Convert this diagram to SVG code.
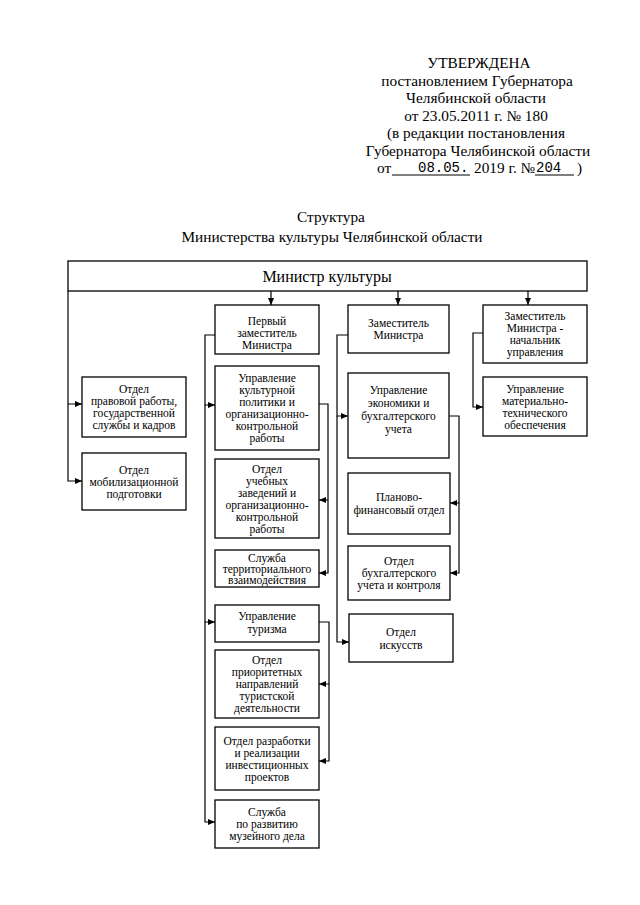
<svg xmlns="http://www.w3.org/2000/svg" width="640" height="905" viewBox="0 0 640 905">
<style>
text{font-family:"Liberation Serif","Times New Roman",serif;fill:#000}
.h{font-size:15.3px;text-anchor:middle}
.hs{font-size:15.3px}
.m{font-family:"Liberation Mono","Courier New",monospace;font-size:14px}
.t{font-size:11.5px;text-anchor:middle}
.b{fill:#fff;stroke:#000;stroke-width:1.3}
.c{fill:none;stroke:#000;stroke-width:1.2}
.u{stroke:#000;stroke-width:1}
</style>
<defs>
<marker id="a" markerUnits="userSpaceOnUse" markerWidth="7" markerHeight="6" refX="7" refY="3" orient="auto">
<path d="M0,0 L7,3 L0,6 z" fill="#000"/>
</marker>
</defs>
<rect width="640" height="905" fill="#fff"/>

<g id="header">
<text class="h" x="479" y="68">УТВЕРЖДЕНА</text>
<text class="h" x="477" y="85.5">постановлением Губернатора</text>
<text class="h" x="476" y="103">Челябинской области</text>
<text class="h" x="476" y="120.5">от 23.05.2011 г. № 180</text>
<text class="h" x="476" y="138">(в редакции постановления</text>
<text class="h" x="478" y="155.5">Губернатора Челябинской области</text>
<text class="hs" x="377" y="173">от</text>
<line class="u" x1="392" y1="175" x2="470" y2="175"/>
<text class="m" x="418" y="172">08.05.</text>
<text class="hs" x="474" y="173">2019 г. №</text>
<text class="m" x="536" y="172">204</text>
<line class="u" x1="535" y1="175" x2="574" y2="175"/>
<text class="hs" x="577" y="173">)</text>
</g>

<g id="title">
<text class="h" x="331" y="222">Структура</text>
<text class="h" x="332" y="242">Министерства культуры Челябинской области</text>
</g>

<g id="connectors">
<polyline class="c" points="68,291 68,404 82,404" marker-end="url(#a)"/>
<polyline class="c" points="68,404 68,481 82,481" marker-end="url(#a)"/>
<line class="c" x1="271" y1="291" x2="271" y2="305" marker-end="url(#a)"/>
<line class="c" x1="398" y1="291" x2="398" y2="305" marker-end="url(#a)"/>
<line class="c" x1="528" y1="291" x2="528" y2="305" marker-end="url(#a)"/>
<polyline class="c" points="215,335 205,335 205,405 215,405" marker-end="url(#a)"/>
<polyline class="c" points="205,405 205,622 215,622" marker-end="url(#a)"/>
<polyline class="c" points="205,622 205,822 215,822" marker-end="url(#a)"/>
<polyline class="c" points="319,404 328,404 328,500 319,500" marker-end="url(#a)"/>
<polyline class="c" points="328,500 328,573 319,573" marker-end="url(#a)"/>
<polyline class="c" points="319,622 329,622 329,684 319,684" marker-end="url(#a)"/>
<polyline class="c" points="329,684 329,761 319,761" marker-end="url(#a)"/>
<polyline class="c" points="348,335 337,335 337,416 348,416" marker-end="url(#a)"/>
<polyline class="c" points="337,416 337,642 349,642" marker-end="url(#a)"/>
<polyline class="c" points="449,416 459,416 459,503 450,503" marker-end="url(#a)"/>
<polyline class="c" points="459,503 459,573 450,573" marker-end="url(#a)"/>
<polyline class="c" points="483,333 473,333 473,407 483,407" marker-end="url(#a)"/>
</g>

<g id="minister">
<rect class="b" x="68" y="261" width="519" height="30"/>
<text x="327" y="282" style="font-size:16px;text-anchor:middle">Министр культуры</text>
</g>

<g id="first-deputy">
<rect class="b" x="215" y="305" width="104" height="49"/>
<text class="t" x="267" y="325">Первый</text>
<text class="t" x="267" y="337">заместитель</text>
<text class="t" x="267" y="349">Министра</text>
</g>

<g id="deputy">
<rect class="b" x="348" y="305" width="101" height="48"/>
<text class="t" x="398.5" y="327">Заместитель</text>
<text class="t" x="398.5" y="339">Министра</text>
</g>

<g id="deputy-head">
<rect class="b" x="483" y="305" width="104" height="58"/>
<text class="t" x="535" y="320">Заместитель</text>
<text class="t" x="535" y="332">Министра -</text>
<text class="t" x="535" y="344">начальник</text>
<text class="t" x="535" y="356">управления</text>
</g>

<g id="legal">
<rect class="b" x="82" y="377" width="104" height="60"/>
<text class="t" x="134" y="393">Отдел</text>
<text class="t" x="134" y="405">правовой работы,</text>
<text class="t" x="134" y="417">государственной</text>
<text class="t" x="134" y="429">службы и кадров</text>
</g>

<g id="mobilization">
<rect class="b" x="82" y="453" width="104" height="57"/>
<text class="t" x="134" y="474">Отдел</text>
<text class="t" x="134" y="486">мобилизационной</text>
<text class="t" x="134" y="498">подготовки</text>
</g>

<g id="culture-policy">
<rect class="b" x="215" y="366" width="104" height="84"/>
<text class="t" x="267" y="382">Управление</text>
<text class="t" x="267" y="394">культурной</text>
<text class="t" x="267" y="406">политики и</text>
<text class="t" x="267" y="418">организационно-</text>
<text class="t" x="267" y="430">контрольной</text>
<text class="t" x="267" y="442">работы</text>
</g>

<g id="education">
<rect class="b" x="215" y="459" width="104" height="79"/>
<text class="t" x="267" y="472.5">Отдел</text>
<text class="t" x="267" y="484.5">учебных</text>
<text class="t" x="267" y="496.5">заведений и</text>
<text class="t" x="267" y="508.5">организационно-</text>
<text class="t" x="267" y="520.5">контрольной</text>
<text class="t" x="267" y="532.5">работы</text>
</g>

<g id="territorial">
<rect class="b" x="215" y="550" width="104" height="37"/>
<text class="t" x="267" y="562">Служба</text>
<text class="t" x="267" y="573">территориального</text>
<text class="t" x="267" y="584">взаимодействия</text>
</g>

<g id="tourism">
<rect class="b" x="215" y="605" width="104" height="37"/>
<text class="t" x="267" y="620">Управление</text>
<text class="t" x="267" y="633">туризма</text>
</g>

<g id="tourism-priority">
<rect class="b" x="215" y="650" width="104" height="68"/>
<text class="t" x="267" y="664">Отдел</text>
<text class="t" x="267" y="676">приоритетных</text>
<text class="t" x="267" y="688">направлений</text>
<text class="t" x="267" y="700">туристской</text>
<text class="t" x="267" y="712">деятельности</text>
</g>

<g id="investment">
<rect class="b" x="215" y="727" width="104" height="63"/>
<text class="t" x="267" y="744.5">Отдел разработки</text>
<text class="t" x="267" y="756.5">и реализации</text>
<text class="t" x="267" y="768.5">инвестиционных</text>
<text class="t" x="267" y="780.5">проектов</text>
</g>

<g id="museum">
<rect class="b" x="215" y="800" width="104" height="48"/>
<text class="t" x="267" y="816">Служба</text>
<text class="t" x="267" y="828">по развитию</text>
<text class="t" x="267" y="840">музейного дела</text>
</g>

<g id="economics">
<rect class="b" x="348" y="373" width="101" height="85"/>
<text class="t" x="398.5" y="394">Управление</text>
<text class="t" x="398.5" y="407">экономики и</text>
<text class="t" x="398.5" y="420">бухгалтерского</text>
<text class="t" x="398.5" y="433">учета</text>
</g>

<g id="planning">
<rect class="b" x="348" y="473" width="102" height="61"/>
<text class="t" x="399" y="501">Планово-</text>
<text class="t" x="399" y="514">финансовый отдел</text>
</g>

<g id="accounting">
<rect class="b" x="348" y="546" width="102" height="54"/>
<text class="t" x="399" y="565">Отдел</text>
<text class="t" x="399" y="577">бухгалтерского</text>
<text class="t" x="399" y="589">учета и контроля</text>
</g>

<g id="arts">
<rect class="b" x="349" y="614" width="104" height="48"/>
<text class="t" x="401" y="636">Отдел</text>
<text class="t" x="401" y="649">искусств</text>
</g>

<g id="logistics">
<rect class="b" x="483" y="377" width="104" height="59"/>
<text class="t" x="535" y="392.5">Управление</text>
<text class="t" x="535" y="404.5">материально-</text>
<text class="t" x="535" y="416.5">технического</text>
<text class="t" x="535" y="428.5">обеспечения</text>
</g>
</svg>
